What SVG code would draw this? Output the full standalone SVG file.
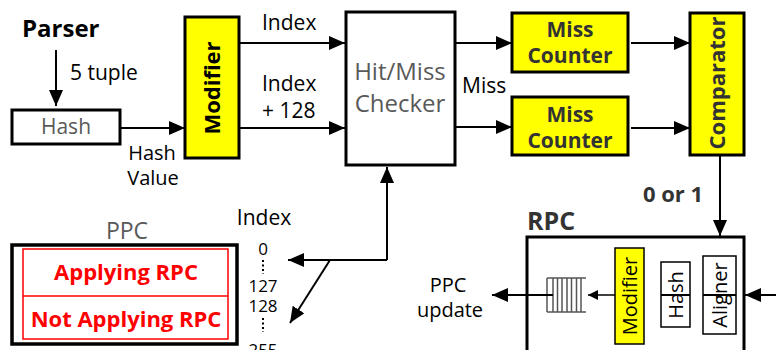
<svg xmlns="http://www.w3.org/2000/svg" width="776" height="350" viewBox="0 0 776 350">
<defs>
<marker id="ah" markerUnits="userSpaceOnUse" markerWidth="16" markerHeight="14" refX="16" refY="7" orient="auto">
<path d="M0,0 L16,7 L0,14 z" fill="#000"/>
</marker>
<marker id="ahs" markerUnits="userSpaceOnUse" markerWidth="10" markerHeight="10" refX="10" refY="5" orient="auto">
<path d="M0,0 L10,5 L0,10 z" fill="#000"/>
</marker>
</defs>
<style>
text{font-family:"Open Sans","Noto Sans","DejaVu Sans",sans-serif;}
.lbl{font-size:21px;fill:#000;}
.num{font-size:17px;fill:#000;}
.gray{fill:#595959;}
.b{font-weight:bold;}
.dk{fill:#333;}
.red{fill:#ff0000;}
.box{fill:#fff;stroke:#000;stroke-width:3;}
.ybox{fill:#ffff00;stroke:#000;stroke-width:3;}
.ibox{fill:#fff;stroke:#000;stroke-width:1.5;}
.c{stroke:#000;stroke-width:2;fill:none;}
.ca{stroke:#000;stroke-width:2;fill:none;marker-end:url(#ah);}
</style>
<rect width="776" height="350" fill="#fff"/>

<g id="parser">
<text x="22" y="37" class="b" font-size="24">Parser</text>
</g>

<g id="hash">
<rect x="12" y="110" width="108" height="34" class="box"/>
<text x="66" y="134" font-size="21" class="gray" text-anchor="middle">Hash</text>
</g>

<g id="modifier">
<rect x="185" y="17" width="54" height="141" class="ybox"/>
<text transform="translate(212,88) rotate(-90)" x="0" y="8" font-size="22" class="b" text-anchor="middle">Modifier</text>
</g>

<g id="hitmiss">
<rect x="346" y="12" width="109" height="153" class="box"/>
<text x="400" y="80" font-size="24" class="gray" text-anchor="middle">Hit/Miss</text>
<text x="400" y="112" font-size="24" class="gray" text-anchor="middle">Checker</text>
</g>

<g id="counter1">
<rect x="512" y="13" width="116" height="59" class="ybox"/>
<text x="570" y="37" font-size="21" class="b dk" text-anchor="middle">Miss</text>
<text x="570" y="63" font-size="21" class="b dk" text-anchor="middle">Counter</text>
</g>

<g id="counter2">
<rect x="512" y="97" width="116" height="58" class="ybox"/>
<text x="570" y="122" font-size="21" class="b dk" text-anchor="middle">Miss</text>
<text x="570" y="148" font-size="21" class="b dk" text-anchor="middle">Counter</text>
</g>

<g id="comparator">
<rect x="690" y="13" width="54" height="142" class="ybox"/>
<text transform="translate(717,83) rotate(-90)" x="0" y="8" font-size="22" class="b dk" text-anchor="middle">Comparator</text>
</g>

<g id="ppc">
<text x="127" y="239" font-size="23" class="gray" text-anchor="middle">PPC</text>
<rect x="12" y="245" width="225" height="99" fill="#fff" stroke="#000" stroke-width="3.5"/>
<rect x="23" y="249" width="205" height="90" fill="none" stroke="#ff0000" stroke-width="1.5"/>
<line x1="23" y1="296" x2="228" y2="296" stroke="#ff0000" stroke-width="1.5"/>
<text x="126" y="280" font-size="22" class="b red" text-anchor="middle">Applying RPC</text>
<text x="126" y="327" font-size="22" class="b red" text-anchor="middle">Not Applying RPC</text>
</g>

<g id="index">
<text x="264" y="225" class="lbl" text-anchor="middle">Index</text>
<text x="263" y="255" class="num" text-anchor="middle">0</text>
<line x1="263" y1="260" x2="263" y2="274" stroke="#000" stroke-width="2" stroke-dasharray="2,2.5"/>
<text x="263" y="292" class="num" text-anchor="middle">127</text>
<text x="263" y="312" class="num" text-anchor="middle">128</text>
<line x1="263" y1="318" x2="263" y2="332" stroke="#000" stroke-width="2" stroke-dasharray="2,2.5"/>
<text x="263" y="356" class="num" text-anchor="middle">255</text>
</g>

<g id="rpc">
<text x="527" y="230" font-size="25" class="b dk">RPC</text>
<rect x="527" y="237" width="217" height="120" class="box"/>
<rect x="703" y="256" width="33" height="78" class="ibox"/>
<text transform="translate(719.5,295) rotate(-90)" x="0" y="7" font-size="20" text-anchor="middle">Aligner</text>
<rect x="661" y="262" width="29" height="65" class="ibox"/>
<text transform="translate(675.5,295) rotate(-90)" x="0" y="7" font-size="20" text-anchor="middle">Hash</text>
<rect x="615" y="248" width="29" height="96" fill="#ffff00" stroke="#000" stroke-width="1.5"/>
<text transform="translate(629.5,296) rotate(-90)" x="0" y="7" font-size="20" text-anchor="middle">Modifier</text>
<g id="queue" stroke="#555" stroke-width="1.5" fill="none">
<line x1="547" y1="278" x2="586" y2="278"/>
<line x1="547" y1="312" x2="586" y2="312"/>
<line x1="547" y1="278" x2="547" y2="312"/>
<line x1="553" y1="278" x2="553" y2="312"/>
<line x1="557.5" y1="278" x2="557.5" y2="312"/>
<line x1="562" y1="278" x2="562" y2="312"/>
<line x1="567" y1="278" x2="567" y2="312"/>
<line x1="571.5" y1="278" x2="571.5" y2="312"/>
<line x1="576.5" y1="278" x2="576.5" y2="312"/>
<line x1="581" y1="278" x2="581" y2="312"/>
</g>
</g>

<g id="labels">
<text x="70" y="80" class="lbl">5 tuple</text>
<text x="152" y="160" font-size="20" text-anchor="middle">Hash</text>
<text x="153" y="185" font-size="20" text-anchor="middle">Value</text>
<text x="262" y="30" class="lbl">Index</text>
<text x="262" y="91" class="lbl">Index</text>
<text x="262" y="118" class="lbl">+ 128</text>
<text x="462" y="93" class="lbl">Miss</text>
<text x="673" y="202" font-size="22" class="b dk" text-anchor="middle">0 or 1</text>
<text x="448" y="292" font-size="20" text-anchor="middle">PPC</text>
<text x="450" y="317" font-size="20" text-anchor="middle">update</text>
</g>

<g id="connectors">
<line x1="56" y1="50" x2="56" y2="106" class="ca"/>
<line x1="120" y1="128" x2="185" y2="128" class="ca"/>
<line x1="239" y1="43" x2="345" y2="43" class="ca"/>
<line x1="239" y1="128" x2="345" y2="128" class="ca"/>
<line x1="455" y1="43" x2="512" y2="43" class="ca"/>
<line x1="455" y1="127" x2="512" y2="127" class="ca"/>
<line x1="631" y1="43" x2="690" y2="43" class="ca"/>
<line x1="631" y1="128" x2="690" y2="128" class="ca"/>
<line x1="720" y1="155" x2="720" y2="236" class="ca"/>
<line x1="387" y1="260" x2="387" y2="167" class="ca"/>
<line x1="387" y1="260" x2="288" y2="260" class="ca"/>
<line x1="330" y1="260" x2="290" y2="323" class="ca"/>
<line x1="776" y1="295" x2="745" y2="295" class="ca"/>
<line x1="736" y1="295" x2="703" y2="295" class="c"/>
<line x1="690" y1="295" x2="661" y2="295" class="c"/>
<line x1="615" y1="295" x2="588" y2="295" stroke="#000" stroke-width="1.5" marker-end="url(#ahs)"/>
<line x1="553" y1="295" x2="492" y2="295" class="ca"/>
</g>
</svg>
